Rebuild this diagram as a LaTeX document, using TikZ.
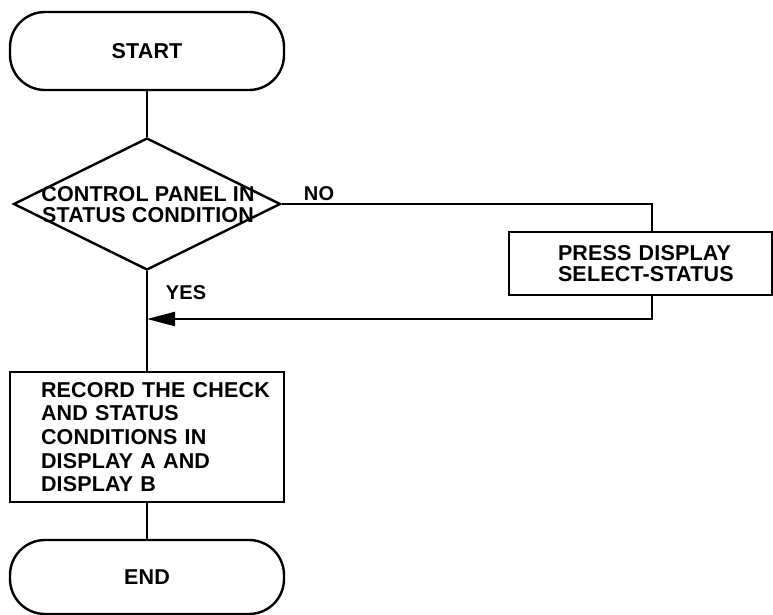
\documentclass[tikz,border=0pt]{standalone}
\usepackage{fontspec}
\setmainfont[LetterSpace=0.8]{Liberation Sans}
\usetikzlibrary{shapes.geometric,arrows.meta}
\begin{document}
\begin{tikzpicture}[x=1pt,y=-1pt,
  every node/.style={font=\fontsize{21.5}{20}\selectfont\bfseries},
  line/.style={line width=2.4pt},
  term/.style={draw,line width=2.4pt,rounded corners=35pt,minimum width=274pt,minimum height=78pt,inner sep=0pt},
  decision/.style={draw,diamond,line width=2.4pt,minimum width=267pt,minimum height=132pt,inner sep=0pt},
  dtext/.style={align=center,inner sep=0pt,font=\fontsize{21.5}{21}\selectfont\bfseries},
  procbox/.style={draw,line width=2.4pt,align=left,inner ysep=0pt},
  lbl/.style={inner sep=0pt,font=\fontsize{20}{20}\selectfont\bfseries}]
\useasboundingbox (0,0) rectangle (773,614);
\node[term] (start) at (147,51) {START};
\node[decision] (dec) at (147,204) {};
\node[dtext] (dtx) at (148,205) {\mbox{CONTROL PANEL IN}\\\mbox{STATUS CONDITION}};
\node[procbox,minimum width=263pt,minimum height=63pt,inner xsep=49pt,text width=165pt,
      font=\fontsize{21.5}{20.5}\selectfont\bfseries] (press) at (640.5,263.5) {\mbox{PRESS DISPLAY}\\\mbox{SELECT-STATUS}};
\node[procbox,minimum width=274pt,minimum height=130pt,inner xsep=31pt,text width=212pt,
      font=\fontsize{21.5}{23.7}\selectfont\bfseries] (rec) at (147,437) {\mbox{RECORD THE CHECK}\\\mbox{AND STATUS}\\\mbox{CONDITIONS IN}\\\mbox{DISPLAY A AND}\\\mbox{DISPLAY B}};
\node[term,minimum height=74pt] (end) at (147,577) {END};
\node[lbl] (no) at (319,194) {NO};
\node[lbl] (yes) at (186,293) {YES};
\coordinate (ret) at (147,319);
\draw[line] (start) -- (dec);
\draw[line] (dec.east) -| ([xshift=11.5pt]press.north);
\draw[line,-{Triangle[length=28pt,width=14pt]}] ([xshift=11.5pt]press.south) |- (ret);
\draw[line] (dec.south) -- (rec.north);
\draw[line] (rec.south) -- (end.north);
\end{tikzpicture}
\end{document}
